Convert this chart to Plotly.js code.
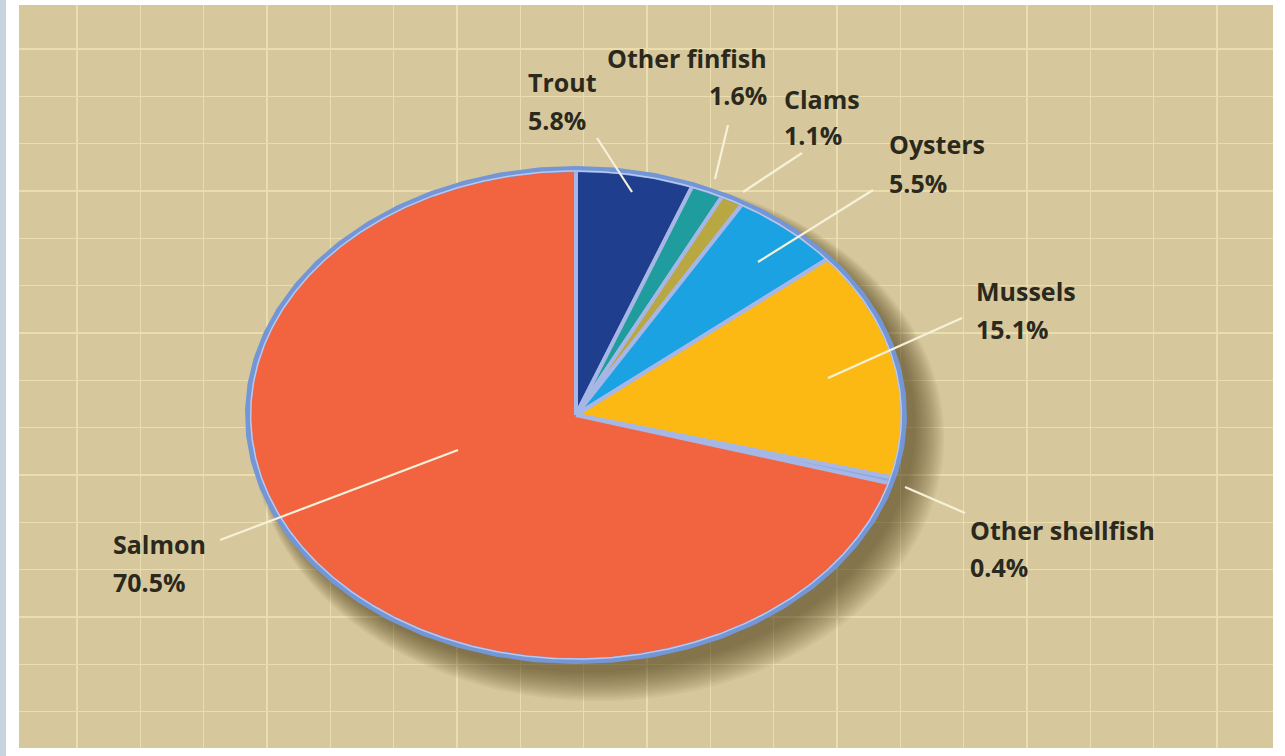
<!DOCTYPE html>
<html>
<head>
<meta charset="utf-8">
<script src="https://cdn.plot.ly/plotly-3.0.1.min.js"></script>
<style>html,body{margin:0;padding:0;background:#fff;}#chart{width:1285px;height:756px;}</style>
</head>
<body>
<div id="chart"></div>
<script>
// ---- data ----
const categories = ['Trout', 'Other finfish', 'Clams', 'Oysters', 'Mussels', 'Other shellfish', 'Salmon'];
const shares = [5.8, 1.6, 1.1, 5.5, 15.1, 0.4, 70.5];

// ---- styles ----
const sliceColors = ['#1f3f8e', '#1f9c9e', '#b9a742', '#1ba2e2', '#fdb913', '#8fa8de', '#f2633f'];
const labelFont = {family: '"Open Sans", Lato, sans-serif', size: 25, color: '#2b281d', weight: 700};

// pie geometry (pixel space of the panel)
const pie = {cx: 576, cy: 415, a: 328, b: 246};

// label placement: x, anchor, name baseline, pct baseline, leader line (outer -> inner)
const labelPos = {
  'Trout':           {x: 526, anchor: 'left',  y1: 90,  y2: 128, l: [597, 138, 632, 192]},
  'Other finfish':   {x: 769, anchor: 'right', y1: 66,  y2: 103, l: [728, 125, 715, 179]},
  'Clams':           {x: 782, anchor: 'left',  y1: 107, y2: 143, l: [802, 153, 743, 192]},
  'Oysters':         {x: 887, anchor: 'left',  y1: 152, y2: 191, l: [873, 190, 758, 262]},
  'Mussels':         {x: 974, anchor: 'left',  y1: 299, y2: 337, l: [962, 318, 828, 378]},
  'Other shellfish': {x: 968, anchor: 'left',  y1: 538, y2: 575, l: [965, 513, 905, 487]},
  'Salmon':          {x: 111, anchor: 'left',  y1: 552, y2: 590, l: [220, 540, 458, 450]}
};

function ellPt(t, s) {
  s = s || 1;
  return [pie.cx + pie.a * s * Math.sin(t), pie.cy - pie.b * s * Math.cos(t)];
}

const traces = [];
const total = shares.reduce((p, c) => p + c, 0);
let cum = 0;
shares.forEach((v, i) => {
  const t0 = cum / total * 2 * Math.PI;
  cum += v;
  const t1 = cum / total * 2 * Math.PI;
  const n = Math.max(4, Math.ceil((t1 - t0) / 0.01));
  const xs = [pie.cx], ys = [pie.cy];
  for (let k = 0; k <= n; k++) {
    const p = ellPt(t0 + (t1 - t0) * k / n);
    xs.push(p[0]); ys.push(p[1]);
  }
  xs.push(pie.cx); ys.push(pie.cy);
  traces.push({
    type: 'scatter', mode: 'lines', x: xs, y: ys, fill: 'toself',
    fillcolor: sliceColors[i], line: {color: '#a6b7e6', width: 4},
    hoverinfo: 'skip', showlegend: false, name: categories[i]
  });
});

// outer rim
const rx = [], ry = [], ix = [], iy = [];
for (let k = 0; k <= 720; k++) {
  const t = k / 720 * 2 * Math.PI;
  const p = ellPt(t); rx.push(p[0]); ry.push(p[1]);
  const q = ellPt(t, 0.992); ix.push(q[0]); iy.push(q[1]);
}
traces.push({type: 'scatter', mode: 'lines', x: rx, y: ry, line: {color: '#7396d6', width: 6}, hoverinfo: 'skip', showlegend: false});
traces.push({type: 'scatter', mode: 'lines', x: ix, y: iy, line: {color: '#b9c8ef', width: 1.5}, hoverinfo: 'skip', showlegend: false});

// soft shadow layers + leader lines + background strips
const shapes = [];
for (let k = 0; k < 14; k++) {
  const g = 30 - k * 2.2;
  shapes.push({
    type: 'circle', layer: 'between', xref: 'x', yref: 'y',
    x0: pie.cx - pie.a + 14 - g * 0.3, x1: pie.cx + pie.a + 10 + g,
    y0: pie.cy - pie.b + 14 - g * 0.3, y1: pie.cy + pie.b + 10 + g,
    fillcolor: 'rgba(70,58,25,0.055)', line: {width: 0}
  });
}
const annotations = [];
categories.forEach((c, i) => {
  const lp = labelPos[c];
  shapes.push({type: 'line', xref: 'x', yref: 'y', x0: lp.l[0], y0: lp.l[1], x1: lp.l[2], y1: lp.l[3],
               line: {color: '#f7f1da', width: 2.2}});
  annotations.push({xref: 'x', yref: 'y', x: lp.x, y: lp.y1 - 8, text: c, showarrow: false,
                    xanchor: lp.anchor, yanchor: 'middle', font: labelFont});
  annotations.push({xref: 'x', yref: 'y', x: lp.x, y: lp.y2 - 8, text: shares[i].toFixed(1) + '%', showarrow: false,
                    xanchor: lp.anchor, yanchor: 'middle', font: labelFont});
});
// page frame strips
shapes.push({type: 'rect', xref: 'paper', yref: 'paper', x0: -19/1254, x1: -13/1254, y0: -8/743, y1: 751/743,
             fillcolor: '#c7d4dd', line: {width: 0}, layer: 'above'});
shapes.push({type: 'rect', xref: 'paper', yref: 'paper', x0: -19/1254, x1: 1266/1254, y0: 748/743, y1: 751/743,
             fillcolor: '#c7d4dd', line: {width: 0}, layer: 'above'});

const layout = {
  width: 1285, height: 756,
  margin: {l: 19, r: 12, t: 5, b: 8},
  paper_bgcolor: '#ffffff',
  plot_bgcolor: '#d6c89c',
  showlegend: false,
  hovermode: false,
  xaxis: {range: [19, 1273], tick0: 77, dtick: 63.333, showgrid: true, gridcolor: '#ebdeae', gridwidth: 1.6,
          zeroline: false, showticklabels: false, ticks: '', showline: false, fixedrange: true},
  yaxis: {range: [748, 5], tick0: 49, dtick: 47.333, showgrid: true, gridcolor: '#ebdeae', gridwidth: 1.6,
          zeroline: false, showticklabels: false, ticks: '', showline: false, fixedrange: true},
  shapes: shapes,
  annotations: annotations
};

Plotly.newPlot('chart', traces, layout, {staticPlot: true, displayModeBar: false});
</script>
</body>
</html>
